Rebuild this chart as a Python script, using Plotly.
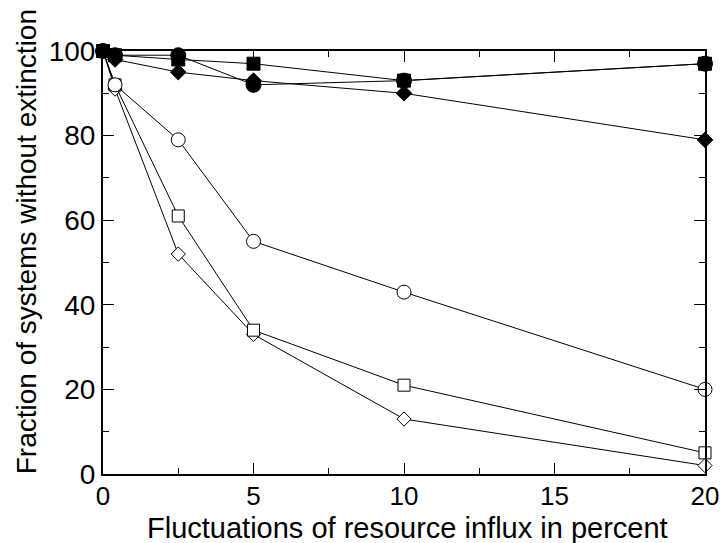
import plotly.graph_objects as go

x = [0, 0.4, 2.5, 5, 10, 20]

filled_square = [100, 99, 98, 97, 93, 97]
filled_circle = [100, 99, 99, 92, 93, 97]
filled_diamond = [100, 98, 95, 93, 90, 79]
open_circle = [100, 92, 79, 55, 43, 20]
open_square = [100, 92, 61, 34, 21, 5]
open_diamond = [100, 91, 52, 33, 13, 2]

x_ticks = [0, 5, 10, 15, 20]
y_ticks = [0, 20, 40, 60, 80, 100]

series = [
    (open_diamond, "diamond-open", 11),
    (open_square, "square-open", 12),
    (open_circle, "circle-open", 14),
    (filled_diamond, "diamond", 12),
    (filled_circle, "circle", 15),
    (filled_square, "square", 13),
]

fig = go.Figure()
for ys, sym, sz in series:
    filled = "open" not in sym
    fig.add_trace(go.Scatter(
        x=x, y=ys, mode="lines+markers",
        line=dict(color="black", width=1),
        marker=dict(symbol=sym.replace("-open", ""), size=sz,
                    color="black" if filled else "white",
                    line=dict(color="black", width=1)),
        cliponaxis=False, showlegend=False,
    ))

font = "Liberation Sans, Arial, sans-serif"
fig.update_layout(
    width=725, height=543,
    margin=dict(l=103, r=20, t=51, b=69),
    paper_bgcolor="white", plot_bgcolor="white",
    font=dict(family=font, size=28, color="black"),
    annotations=[
        dict(
            text="Fraction of systems without extinction",
            xref="paper", yref="paper", x=-0.128, y=0.55,
            xanchor="center", yanchor="middle", textangle=-90,
            showarrow=False, font=dict(size=28),
        ),
        dict(
            text="Fluctuations of resource influx in percent",
            xref="paper", yref="paper", x=0.505, y=-0.168,
            xanchor="center", yanchor="bottom", borderpad=0,
            showarrow=False, font=dict(size=29),
        ),
    ],
)
fig.update_xaxes(
    range=[0, 20], tickvals=x_ticks, ticktext=[str(v) for v in x_ticks],
    showgrid=False, zeroline=False, automargin=False,
    showline=True, linecolor="black", linewidth=2, mirror="allticks",
    ticks="inside", ticklen=11, tickwidth=1, tickcolor="black",
    minor=dict(dtick=2.5, ticks="inside", ticklen=6, tickcolor="black", tickwidth=1, showgrid=False),
    tickfont=dict(size=26), ticklabelstandoff=-2,
)
fig.update_yaxes(
    range=[0, 100], tickvals=y_ticks, ticktext=[str(v) for v in y_ticks],
    showgrid=False, zeroline=False, automargin=False,
    showline=True, linecolor="black", linewidth=2, mirror="allticks",
    ticks="inside", ticklen=11, tickwidth=1, tickcolor="black",
    minor=dict(dtick=10, ticks="inside", ticklen=6, tickcolor="black", tickwidth=1, showgrid=False),
    tickfont=dict(size=28),
)

fig.write_html("out.html")
